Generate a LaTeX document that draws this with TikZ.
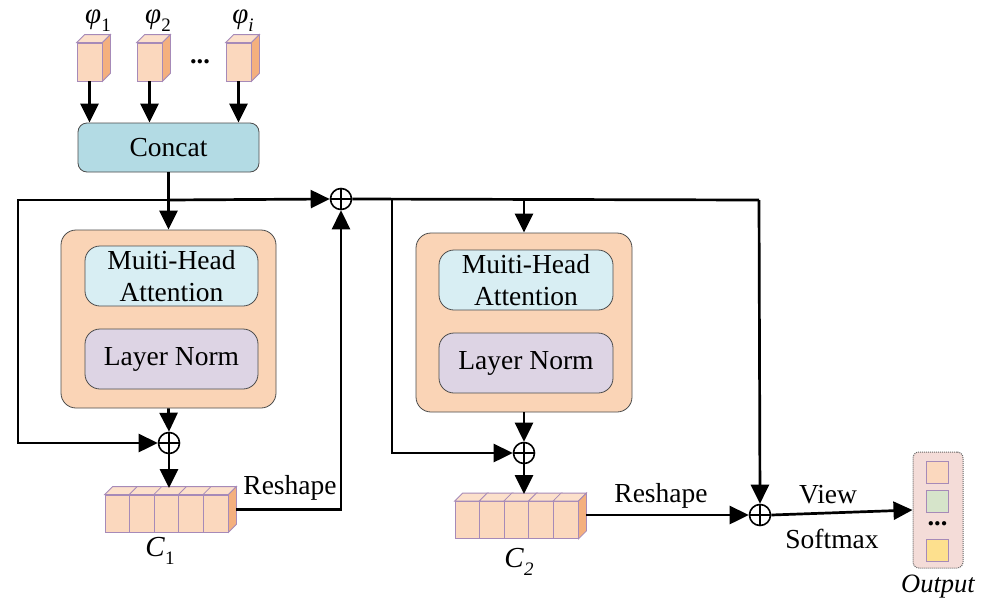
\documentclass[tikz,border=0pt]{standalone}
\usepackage{fontspec}
\setmainfont{Liberation Serif}
\usetikzlibrary{arrows.meta,calc}
\definecolor{cubefront}{HTML}{FBD8BE}
\definecolor{cubeside}{HTML}{F4B07E}
\definecolor{cubeedge}{HTML}{A68AB8}
\definecolor{blockfill}{HTML}{FAD4B6}
\definecolor{mhafill}{HTML}{D8EEF3}
\definecolor{lnfill}{HTML}{DDD4E4}
\definecolor{concatfill}{HTML}{B3DBE4}
\definecolor{outfill}{HTML}{F4DCD8}
\definecolor{sqgreen}{HTML}{D6E4CA}
\definecolor{sqyellow}{HTML}{FDE08E}
\newcommand{\subup}[1]{\raisebox{-0.28em}{\fontsize{19}{20}\selectfont #1}}
\tikzset{
  txt/.style={font=\fontsize{27.5}{32}\selectfont},
  ln/.style={line width=2.7pt},
  arr/.style={line width=2.7pt,-{Triangle[length=19pt,width=18pt]}},
  cubebox/.style={draw=cubeedge,fill=cubefront,line width=0.8pt,inner sep=0pt,minimum width=25pt,minimum height=38pt},
  cellbox/.style={draw=cubeedge,fill=cubefront,line width=0.8pt,inner sep=0pt,minimum width=24.6pt,minimum height=37pt},
  blockbox/.style={draw=black!70,fill=blockfill,line width=0.8pt,rounded corners=15pt,inner sep=0pt},
  innerbox/.style={draw=black!70,line width=0.8pt,rounded corners=15pt,inner sep=0pt,minimum width=174pt,minimum height=60pt,align=center,txt},
  plusnode/.style={circle,draw,line width=1.6pt,minimum size=21pt,inner sep=0pt,
    path picture={\draw[line width=1.4pt] (path picture bounding box.north) -- (path picture bounding box.south)
      (path picture bounding box.west) -- (path picture bounding box.east);}},
  sqbox/.style={draw=cubeedge,line width=0.8pt,minimum size=22pt,inner sep=0pt},
}
\newcommand{\cubefaces}[2]{%
  \draw[cubeedge,fill=cubefront!80!white,line width=0.8pt] (#1.north west) -- ++(#2,-#2) -- ($(#1.north east)+(#2,-#2)$) -- (#1.north east) -- cycle;}
\newcommand{\cubeside}[2]{%
  \draw[cubeedge,fill=cubeside,line width=0.8pt] (#1.north east) -- ++(#2,-#2) -- ($(#1.south east)+(#2,-#2)$) -- (#1.south east) -- cycle;}
\begin{document}
\begin{tikzpicture}[x=1pt,y=-1pt]
\useasboundingbox[fill=white] (0,0) rectangle (988,611);

% input cubes
\node[cubebox] (p1) at (89.5,62) {};
\node[cubebox] (p2) at (149.5,62) {};
\node[cubebox] (p3) at (238.5,62) {};
\foreach \c in {p1,p2,p3}{\cubefaces{\c}{8}\cubeside{\c}{8}}
\node[font=\fontsize{29}{30}\selectfont] (l1) at (98,21) {\textit{φ}\subup{1}};
\node[font=\fontsize{29}{30}\selectfont] (l2) at (158,21) {\textit{φ}\subup{2}};
\node[font=\fontsize{29}{30}\selectfont] (l3) at (243,21) {\textit{φ}\subup{\textit{i}}};
\node[font=\fontsize{26.5}{31}\selectfont\bfseries] (dots) at (200,62) {...};

% concat
\node[draw=black!70,fill=concatfill,line width=0.8pt,rounded corners=9pt,minimum width=181pt,minimum height=49pt,txt] (concat) at (168.5,147.5) {Concat};
\foreach \c in {p1,p2,p3}{\draw[arr] (\c.south) -- (\c.south |- concat.north);}

% block 1
\node[blockbox,minimum width=215pt,minimum height=178pt] (b1) at (168.5,319) {};
\node[innerbox,fill=mhafill,minimum width=173pt] (m1) at (171.5,276) {Muiti-Head\\Attention};
\node[innerbox,fill=lnfill,minimum width=173pt] (n1) at (171.5,359) {Layer Norm};

% block 2
\node[blockbox,minimum width=216pt,minimum height=179pt] (b2) at (524,322.5) {};
\node[innerbox,fill=mhafill] (m2) at (526,280) {Muiti-Head\\Attention};
\node[innerbox,fill=lnfill] (n2) at (526,363) {Layer Norm};

% plus nodes
\node[plusnode] (q1) at (169,443) {};
\node[plusnode] (qa) at (341,199) {};
\node[plusnode] (q2) at (524,453) {};
\node[plusnode] (qb) at (760,515) {};

% C1 cells
\foreach \i/\n in {0/c1a,1/c1b,2/c1c,3/c1d,4/c1e}{
  \node[cellbox] (\n) at ({105+24.6*(\i+0.5)},513.5) {};
  \cubefaces{\n}{8}}
\cubeside{c1e}{8}
\node[font=\fontsize{29}{31}\selectfont] (lc1) at (160,551) {\textit{C}\subup{1}};

% C2 cells
\foreach \i/\n in {0/c2a,1/c2b,2/c2c,3/c2d,4/c2e}{
  \node[cellbox] (\n) at ({455+24.6*(\i+0.5)},520) {};
  \cubefaces{\n}{8}}
\cubeside{c2e}{8}
\node[font=\fontsize{29}{31}\selectfont] (lc2) at (519,562) {\textit{C}\subup{\textit{2}}};

% output
\node[draw=black!60,densely dotted,line width=1pt,fill=outfill,rounded corners=6pt,minimum width=50pt,minimum height=116pt] (out) at (938,510) {};
\node[sqbox,fill=cubefront] (o1) at (937.5,472) {};
\node[sqbox,fill=sqgreen] (o2) at (937.5,501.5) {};
\node[sqbox,fill=sqyellow] (o3) at (937.5,550) {};
\node[font=\fontsize{26.5}{31}\selectfont\bfseries] (od) at (937.5,524) {...};
\node[font=\fontsize{26.5}{31}\selectfont\itshape] (ol) at (938,587) {Output};

% coordinates
\coordinate (J1) at (168.5,200);
\coordinate (L1) at (18,200);
\coordinate (J2) at (392,200);
\coordinate (J3) at (524,200);
\coordinate (R1) at (759,200);

% connectors
\draw[ln] (concat.south) -- (J1);
\draw[arr] (J1) -- (b1.north);
\draw[arr] (J1) -- (L1) |- (q1.west);
\draw[arr] (J1) -- (qa.west);
\draw[arr] (b1.south) -- (q1.north);
\draw[arr] (q1.south) -- (169,488);
\draw[arr] ($(c1e.east)+(8,-4)$) -| (qa.south);
\node[txt,anchor=south] (rs1) at (290,504) {Reshape};
\draw[ln] (qa.east) -- (R1);
\draw[arr] (R1) -- (qb.north);
\draw[arr] (J2) |- (q2.west);
\draw[arr] (J3) -- (b2.north);
\draw[arr] (b2.south) -- (q2.north);
\draw[arr] (q2.south) -- (524,494);
\draw[arr] ($(c2e.east)+(8,-5)$) -- (qb.west);
\node[txt] (rs2) at (661,496) {Reshape};
\draw[arr] (qb.east) -- (out.west);
\node[txt] (vw) at (828,495) {View};
\node[txt] (sm) at (832,539) {Softmax};
\end{tikzpicture}
\end{document}
